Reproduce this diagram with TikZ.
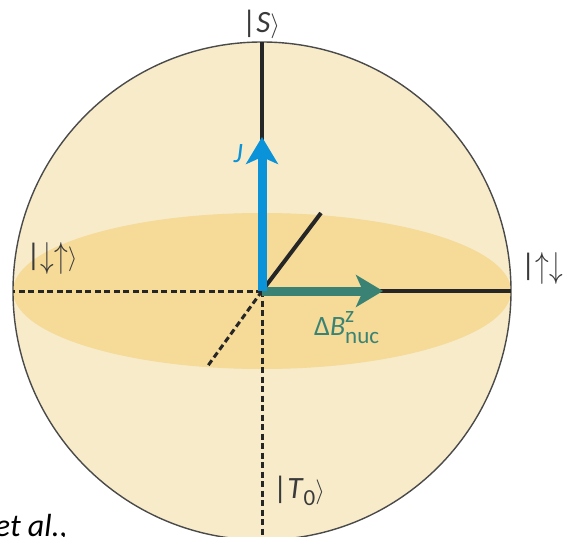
\documentclass[tikz,border=0pt]{standalone}
\usepackage{fontspec}
\setmainfont{Carlito}
\usetikzlibrary{arrows.meta}
\definecolor{spherefill}{HTML}{F7EBCA}
\definecolor{bandfill}{HTML}{F5DA98}
\definecolor{rimline}{HTML}{4A4A4A}
\definecolor{jblue}{HTML}{0A93D8}
\definecolor{nucgreen}{HTML}{3A8374}
\definecolor{labelgray}{HTML}{3A3A3A}
\newcommand{\ketof}[1]{|#1$\big\rangle$}
\newcommand{\spinup}{\raisebox{-2pt}{\scalebox{1.1}[1.45]{$\uparrow$}}}
\newcommand{\spindown}{\raisebox{-2pt}{\scalebox{1.1}[1.45]{$\downarrow$}}}
\newcommand{\smallfs}{\fontsize{23}{23}\selectfont}

\begin{document}
\begin{tikzpicture}[x=1pt,y=-1pt,font=\fontsize{31}{31}\selectfont,
axis/.style={line width=4pt,draw=black!85},
hidden/.style={line width=3pt,draw=black!85,dash pattern=on 6pt off 3.5pt},
vec/.style={line width=9pt,-{Stealth[length=27pt,width=32pt,inset=7pt]}},
ket/.style={text=labelgray,inner sep=0pt}]
\useasboundingbox (0,0) rectangle (564,537);
\clip (0,0) rectangle (564,537);
% sphere and equatorial band
\coordinate (o) at (262,291);
\fill[spherefill] (o) circle[radius=249];
\fill[bandfill] (o) ellipse[x radius=249,y radius=78];
\draw[rimline,line width=1.4pt] (o) circle[radius=249];
\coordinate (stop) at (262,42);
\coordinate (rgt) at (511,291);
\coordinate (lft) at (13,291);
\coordinate (bot) at (262,540);
\coordinate (front) at (321,213);
\coordinate (back) at (207,367);
\coordinate (jtip) at (262,137);
\coordinate (btip) at (383,291);
% axes
\draw[hidden] (o)--(lft);
\draw[hidden] (o)--(bot);
\draw[hidden] (o)--(back);
\draw[axis] (o)--(stop);
\draw[axis] (o)--(rgt);
\draw[axis] (o)--(front);
% vectors
\draw[vec,nucgreen] (o)--(btip);
\draw[vec,jblue] (o)--(jtip);
% labels
\node[ket,anchor=base] (sket) at (261,33) {\ketof{\textit{S}}};
\node[ket] (duket) at (52,258) {\ketof{\spindown\spinup}};
\node[ket,anchor=west] (udket) at (521,268) {\ketof{\spinup\spindown}};
\node[ket,anchor=base] (tket) at (299,498) {\ketof{\textit{T}\raisebox{-7pt}{\smallfs 0}}};
\node[text=jblue,inner sep=0pt,font=\fontsize{28}{28}\selectfont] (jlab) at (238,154) {\textit{J}};
\node[text=nucgreen,inner sep=0pt,anchor=base west,font=\fontsize{28}{28}\selectfont] (blab) at (314,335)
 {Δ\textit{B}\rlap{\raisebox{13pt}{\smallfs z}}\raisebox{-8pt}{\smallfs nuc}};
\node[inner sep=0pt,anchor=base east,font=\fontsize{32}{32}\selectfont] (cite) at (68,536) {\textit{et al.,}};
\end{tikzpicture}
\end{document}
